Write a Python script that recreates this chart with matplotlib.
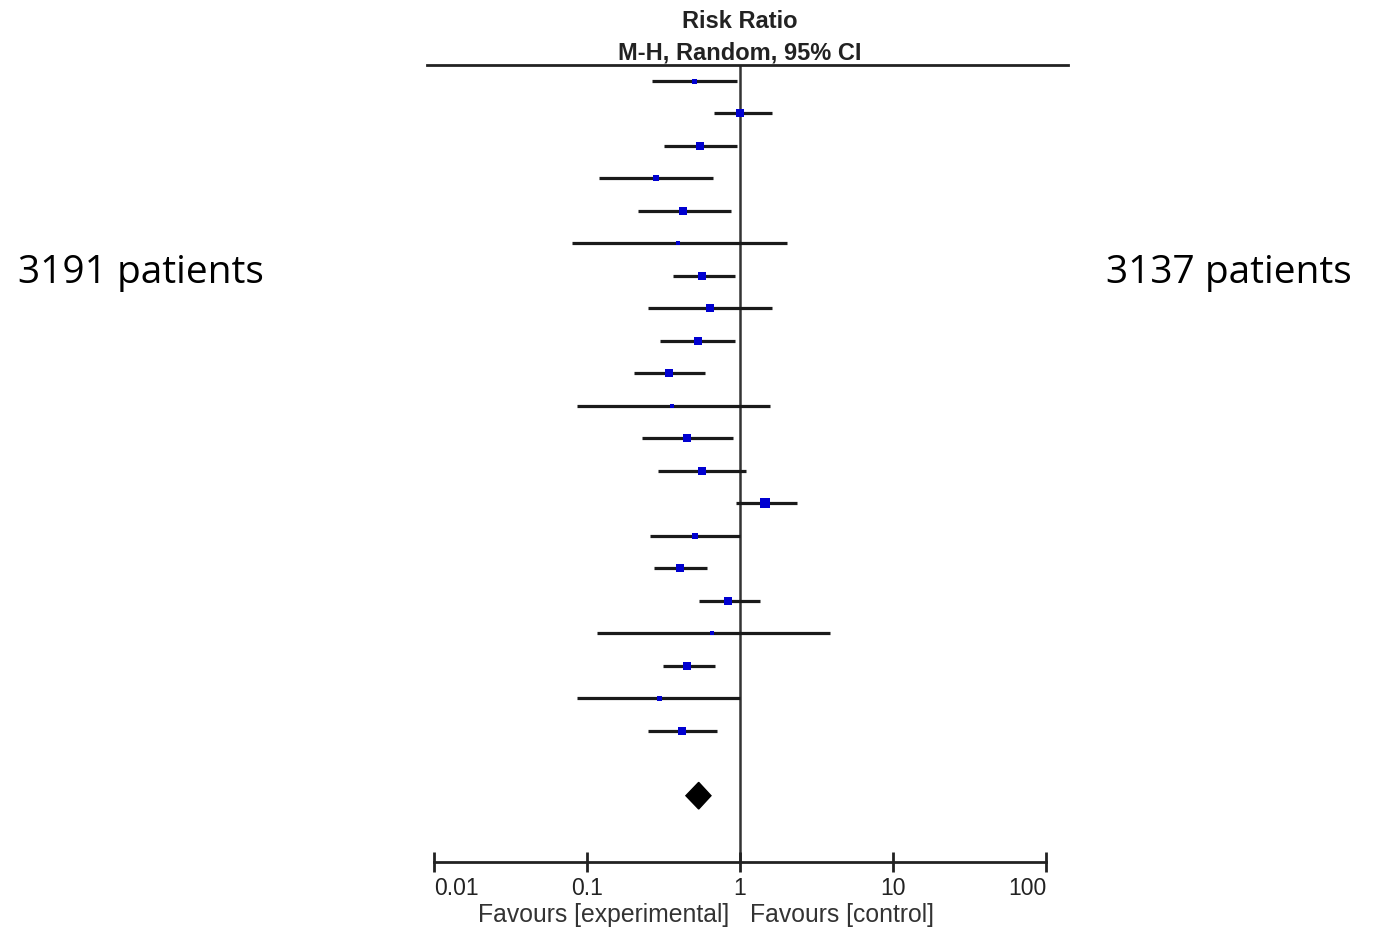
import matplotlib
matplotlib.use("Agg")
import matplotlib.pyplot as plt
from matplotlib.lines import Line2D
import numpy as np

# ---- data ----
rr = [0.50, 1.00, 0.55, 0.281, 0.426, 0.395, 0.565, 0.64, 0.531, 0.345, 0.36,
      0.453, 0.562, 1.46, 0.506, 0.404, 0.839, 0.656, 0.453, 0.294, 0.416]
ci_low = [0.267, 0.673, 0.32, 0.12, 0.217, 0.080, 0.363, 0.249, 0.301, 0.203, 0.0856,
          0.229, 0.292, 0.94, 0.258, 0.275, 0.542, 0.117, 0.313, 0.0856, 0.25]
ci_high = [0.96, 1.63, 0.96, 0.667, 0.873, 2.02, 0.927, 1.63, 0.927, 0.588, 1.57,
           0.905, 1.09, 2.35, 1.00, 0.609, 1.345, 3.86, 0.684, 1.00, 0.707]
weights = [4, 7, 7, 5, 7, 3, 7, 7, 7, 7, 3, 7, 7, 8, 5, 7, 7, 3, 7, 4, 7]
pooled = (0.537, 0.443, 0.646)
ticks = [0.01, 0.1, 1, 10, 100]
tick_labels = ["0.01", "0.1", "1", "10", "100"]
left_label = "3191 patients"
right_label = "3137 patients"

W, H = 1378, 929
fig = plt.figure(figsize=(W / 100, H / 100), dpi=100)
fig.patch.set_facecolor("white")

narrow = ["Liberation Sans Narrow", "Liberation Sans", "DejaVu Sans"]

ax_left, ax_right = 434 / W, 1046 / W
ax_top, ax_bot = 66, 863
ax = fig.add_axes([ax_left, 1 - ax_bot / H, ax_right - ax_left, (ax_bot - ax_top) / H])
ax.set_xscale("log")
ax.set_xlim(0.01, 100)
row0, step = 81.7, 32.5
ax.set_ylim((ax_bot - row0) / step, (ax_top - row0) / step)

ys = np.arange(len(rr))
line_col = "#1a1a1a"
ax.hlines(ys, ci_low, ci_high, color=line_col, lw=2.3, zorder=2)
for y, v, w in zip(ys, rr, weights):
    ax.plot([v], [y], marker="s", ms=w * 0.9, color="#0000d0",
            markeredgewidth=0, zorder=3)

# pooled diamond
yd = len(rr) + 1
est, lo, hi = pooled
dh = 0.41
ax.fill([lo, est, hi, est], [yd, yd - dh, yd, yd + dh], color="black", zorder=3)

ax.axvline(1, color="#333333", lw=1.8, zorder=1)

for s in ["top", "left", "right"]:
    ax.spines[s].set_visible(False)
ax.spines["bottom"].set_linewidth(2.0)
ax.spines["bottom"].set_color("#222222")
ax.set_yticks([])
ax.set_xticks(ticks)
ax.set_xticklabels(tick_labels)
ax.xaxis.set_minor_locator(matplotlib.ticker.NullLocator())
ax.tick_params(axis="x", direction="inout", length=14, width=2.0, color="#222222",
               pad=3, labelsize=16.5, labelcolor="#222222")
labs = ax.get_xticklabels()
for lab in labs:
    lab.set_family(narrow)
labs[0].set_horizontalalignment("left")
labs[-1].set_horizontalalignment("right")

# top header line
fig.add_artist(Line2D([427 / W, 1068 / W], [1 - 66 / H, 1 - 66 / H],
                      color="#222222", lw=2.0))

fig.text(740 / W, 1 - 21 / H, "Risk Ratio", ha="center", va="center",
         fontsize=17, fontweight="bold", family=narrow, color="#222222")
fig.text(740 / W, 1 - 53 / H, "M-H, Random, 95% CI", ha="center", va="center",
         fontsize=17, fontweight="bold", family=narrow, color="#222222")

fig.text(729 / W, 1 - 915 / H, "Favours [experimental]", ha="right", va="center",
         fontsize=17.8, family=narrow, color="#333333")
fig.text(750 / W, 1 - 915 / H, "Favours [control]", ha="left", va="center",
         fontsize=17.8, family=narrow, color="#333333")

side_font = ["Open Sans", "DejaVu Sans"]
fig.text(18 / W, 1 - 273 / H, left_label, ha="left", va="center",
         fontsize=28, family=side_font, color="black")
fig.text(1106 / W, 1 - 273 / H, right_label, ha="left", va="center",
         fontsize=28, family=side_font, color="black")

fig.savefig("out.png", dpi=100, facecolor="white")
